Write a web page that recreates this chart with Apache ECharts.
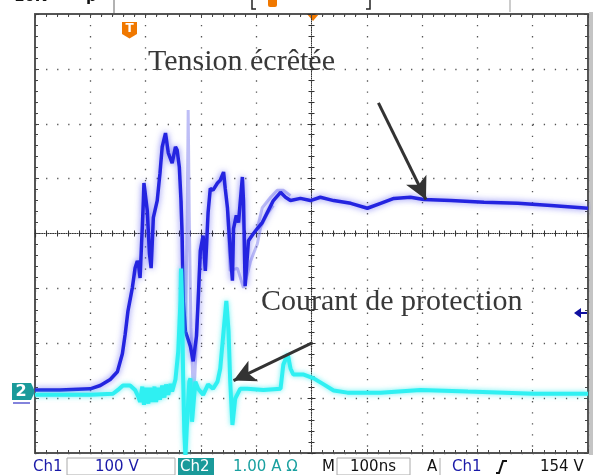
<!DOCTYPE html>
<html>
<head>
<meta charset="utf-8">
<script src="https://cdn.jsdelivr.net/npm/echarts@6/dist/echarts.min.js"></script>
<style>
  html, body { margin: 0; padding: 0; background: #fff; }
  #chart { width: 599px; height: 475px; }
</style>
</head>
<body>
<div id="chart"></div>
<script>
// Oscilloscope capture: clipped voltage (Ch1) and protection current (Ch2)
// time in ns relative to the screen centre, 100 ns/div
const ch1Time = [-500,-455,-400,-382,-364,-351,-342,-337,-332,-324,-319,-315,-313,-310,-306,-304,-303,-297,-293,-290,
  -286,-279,-274,-270,-264,-259,-252,-246,-243,-239,-236,-234,-232,-228,-219,-214,-208,-205,-201,-196,
  -192,-187,-183,-178,-170,-165,-159,-156,-152,-147,-143,-141,-136,-132,-125,-123,-120,-114,-105,-98,
  -89,-80,-69,-56,-47,-38,-20,-2,16,40,71,101,125,149,179,203,252,312,373,433,500];
// volts, 100 V/div
const ch1Volts = [7,7,9,15,26,40,73,108,150,193,229,242,237,211,303,352,384,334,255,229,
  321,352,402,450,475,439,420,450,444,413,352,292,169,114,86,59,105,169,261,288,
  224,330,374,371,384,389,404,374,339,261,206,301,325,312,395,352,196,279,292,301,
  312,330,352,367,358,352,356,352,358,352,347,338,347,356,358,354,352,349,347,343,338];

// fainter persistence traces of Ch1 (null = gap)
const ch1PaleTime = [-236,-232,-228,-225,-223,-221,-218,-214,-211,-206,-201,-201,
  -152,-147,-134,-123,-116,-110,-105,-98,-92,-80,-69,-69,
  -98,-89,-74,-62,-51,-38];
const ch1PaleVolts = [352,169,114,300,517,320,120,5,30,150,261,null,
  339,224,229,193,218,242,255,273,303,328,343,null,
  301,339,358,371,371,361];

const ch2Time = [-500,-400,-359,-350,-341,-328,-319,-313,-310,-306,-303,-299,-295,-292,-288,-284,-281,-277,-274,-270,
  -266,-263,-259,-255,-252,-246,-241,-237,-236,-234,-232,-230,-228,-225,-221,-219,-216,-210,-205,-196,
  -187,-178,-170,-165,-159,-154,-150,-147,-143,-138,-129,-116,-87,-56,-51,-43,-38,-33,-14,4,
  22,40,65,125,197,283,402,500];
// amps, 1 A/div
const ch2Amps = [-0.02,-0.02,0,0.07,0.15,0.15,0.07,-0.06,-0.15,0.13,-0.2,0.11,-0.18,0.11,-0.15,0.13,-0.15,0.11,-0.11,0.15,
  -0.07,0.17,-0.02,0.18,0.04,0.26,0.77,1.69,2.28,1.69,0.22,-0.7,-1.15,-0.51,0.22,0.28,-0.51,0.22,0.09,-0.02,
  0.17,0.09,0.22,0.46,1.14,1.69,1.14,0.22,-0.57,-0.09,0.09,0.09,0.07,0.09,0.53,0.72,0.46,0.35,0.35,0.28,
  0.17,0.06,0.02,0.02,0.07,0.04,0,0];

// annotation arrows, [ns, div] from -> to
const arrowTension = [[121, 2.38], [207, 0.62]];
const arrowCourant = [[2, -1.99], [-141, -2.68]];
const labels = ['Tension écrêtée', 'Courant de protection'];

const ZERO_DIV = -2.92;      // both channel grounds sit here (divisions from centre)
const CH1_SCALE = 100, CH2_SCALE = 1;
const toDiv = (v, s) => (v == null ? '-' : ZERO_DIV + v / s);
const pairs = (ts, vs, s) => ts.map((t, i) => [t, toDiv(vs[i], s)]);

const GRID_DOT = { color: '#555', width: 1.3, type: [1.3, 9.76] };
const FONT = '15px "DejaVu Sans"';

function centreAxis(dim, inside, main) {
  return {
    type: 'value', min: dim === 'x' ? -500 : -4, max: dim === 'x' ? 500 : 4,
    interval: dim === 'x' ? 100 : 1,
    position: dim === 'x' ? 'bottom' : 'left',
    axisLine: { show: main, onZero: true, onZeroAxisIndex: 0,
      lineStyle: { color: '#333', width: 1, type: [1, 1.2] } },
    axisTick: { show: true, inside, length: 4, lineStyle: { color: '#333' } },
    minorTick: { show: true, splitNumber: 5, length: 3, lineStyle: { color: '#333' } },
    axisLabel: { show: false },
    splitLine: { show: main, lineStyle: GRID_DOT },
  };
}
function edgeAxis(dim, position) {
  return {
    type: 'value', min: dim === 'x' ? -500 : -4, max: dim === 'x' ? 500 : 4,
    interval: dim === 'x' ? 100 : 1, position,
    axisLine: { show: true, onZero: false, lineStyle: { color: '#555', width: 2 } },
    axisTick: { show: true, inside: true, length: 4, lineStyle: { color: '#444' } },
    minorTick: { show: true, splitNumber: 5, length: 3, lineStyle: { color: '#444' } },
    axisLabel: { show: false }, splitLine: { show: false },
  };
}

const chart = echarts.init(document.getElementById('chart'), null, { renderer: 'canvas' });

const txt = (text, x, y, fill, font, align) => ({
  type: 'text', x, y, silent: true,
  style: { text, fill, font: font || FONT, align: align || 'left', verticalAlign: 'middle' },
});

chart.setOption({
  animation: false,
  backgroundColor: '#fff',
  grid: { left: 35, top: 14, right: 11, bottom: 22, containLabel: false },
  xAxis: [centreAxis('x', true, true), centreAxis('x', false, false), edgeAxis('x', 'bottom'), edgeAxis('x', 'top')],
  yAxis: [centreAxis('y', true, true), centreAxis('y', false, false), edgeAxis('y', 'left'), edgeAxis('y', 'right')],
  series: [
    {
      type: 'line', data: pairs(ch1PaleTime, ch1PaleVolts, CH1_SCALE), showSymbol: false,
      connectNulls: false, z: 2,
      lineStyle: { color: 'rgba(110,110,235,0.45)', width: 3 },
    },
    {
      type: 'line', data: pairs(ch1Time, ch1Volts, CH1_SCALE), showSymbol: false, z: 3,
      lineStyle: { color: '#2424e0', width: 3.5, shadowColor: 'rgba(70,70,240,0.7)', shadowBlur: 6 },
      markLine: {
        silent: true, symbol: ['none', 'arrow'], symbolSize: [17, 22],
        label: { show: false },
        lineStyle: { color: '#333', width: 3, type: 'solid' },
        data: [
          [{ coord: arrowTension[0] }, { coord: arrowTension[1] }],
          [{ coord: arrowCourant[0] }, { coord: arrowCourant[1] }],
        ],
      },
    },
    {
      type: 'line', data: pairs(ch2Time, ch2Amps, CH2_SCALE), showSymbol: false, z: 4,
      lineStyle: { color: '#2ff0f2', width: 4, shadowColor: 'rgba(40,235,240,0.7)', shadowBlur: 5 },
    },
  ],
  graphic: [
    // annotations
    txt(labels[0], 148, 62, '#383838', '30px "Liberation Serif"'),
    txt(labels[1], 261, 302, '#383838', '30px "Liberation Serif"'),
    // frame shade on the right
    { type: 'rect', shape: { x: 589, y: 12, width: 4, height: 443 }, style: { fill: '#c4c4c4' }, silent: true },
    // record bar at the top
    txt('10K - - - p', 14, -3, '#111', 'bold 15px "DejaVu Sans"'),
    { type: 'line', shape: { x1: 114, y1: 0, x2: 114, y2: 13 }, style: { stroke: '#999', lineWidth: 1.5 } },
    { type: 'line', shape: { x1: 510, y1: 0, x2: 510, y2: 12 }, style: { stroke: '#bbb', lineWidth: 1.5 } },
    { type: 'polyline', shape: { points: [[256, 9], [252, 9], [252, 0]] }, style: { stroke: '#222', lineWidth: 1.5, fill: null } },
    { type: 'polyline', shape: { points: [[366, 9], [370, 9], [370, 0]] }, style: { stroke: '#222', lineWidth: 1.5, fill: null } },
    { type: 'rect', shape: { x: 268, y: -4, width: 9, height: 11, r: 2 }, style: { fill: '#f07800' } },
    // trigger position marker and centre marker
    { type: 'polygon', shape: { points: [[122, 22], [137, 22], [137, 34], [129.5, 38.5], [122, 34]] }, style: { fill: '#f07800' } },
    txt('T', 129.5, 29, '#fff', 'bold 12px "DejaVu Sans"', 'center'),
    { type: 'polygon', shape: { points: [[307, 14], [319, 14], [313, 21]] }, style: { fill: '#f07800' } },
    // Ch2 ground marker
    { type: 'polygon', shape: { points: [[12, 383], [31, 383], [35, 391.5], [31, 400], [12, 400]] }, style: { fill: '#1a9a9a' } },
    txt('2', 21, 392, '#fff', 'bold 16px "DejaVu Sans"', 'center'),
    { type: 'line', shape: { x1: 13, y1: 403, x2: 30, y2: 403 }, style: { stroke: '#5a5ad0', lineWidth: 1.5 } },
    // trigger level arrow
    { type: 'line', shape: { x1: 579, y1: 313, x2: 587, y2: 313 }, style: { stroke: '#1010a0', lineWidth: 2 } },
    { type: 'polygon', shape: { points: [[574, 313], [581, 308], [581, 318]] }, style: { fill: '#1010a0' } },
    // status line
    txt('Ch1', 33, 467, '#1a1aa8'),
    { type: 'rect', shape: { x: 67, y: 458, width: 108, height: 17 }, style: { stroke: '#aaa', fill: null, lineWidth: 1 } },
    txt('100 V', 95, 467, '#1a1aa8'),
    { type: 'rect', shape: { x: 178, y: 458, width: 36, height: 17 }, style: { fill: '#1a9a9a' } },
    txt('Ch2', 180, 467, '#fff'),
    txt('1.00 A Ω', 233, 467, '#1aa0a0'),
    txt('M', 322, 467, '#111'),
    { type: 'rect', shape: { x: 337, y: 458, width: 73, height: 17 }, style: { stroke: '#aaa', fill: null, lineWidth: 1 } },
    txt('100ns', 350, 467, '#111'),
    txt('A', 427, 467, '#111'),
    { type: 'line', shape: { x1: 440, y1: 458, x2: 440, y2: 475 }, style: { stroke: '#aaa', lineWidth: 1 } },
    txt('Ch1', 452, 467, '#1a1aa8'),
    { type: 'polyline', shape: { points: [[496, 473], [499, 473], [503, 461], [507, 461]] }, style: { stroke: '#111', lineWidth: 2, fill: null } },
    txt('154 V', 540, 467, '#111'),
  ],
});
</script>
</body>
</html>
